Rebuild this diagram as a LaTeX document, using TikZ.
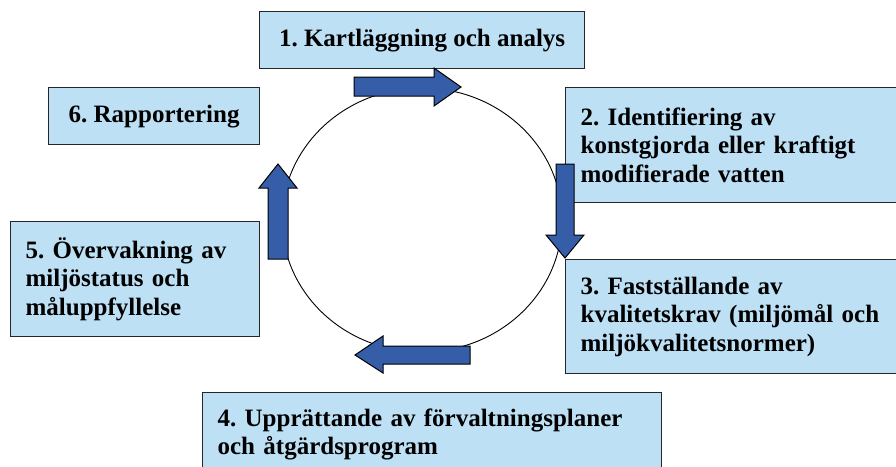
\documentclass[tikz,border=0pt]{standalone}
\usepackage{fontspec}
\setmainfont{Liberation Serif}
\usepackage{xcolor}
\usetikzlibrary{positioning}
\frenchspacing

\definecolor{boxblue}{RGB}{189,224,245}
\definecolor{arrowblue}{RGB}{54,94,168}

\tikzset{
  stage/.style={draw=black!85,fill=boxblue,line width=1.2pt,rectangle,
    inner xsep=15pt,inner ysep=4pt,anchor=north west,
    font=\bfseries\fontsize{25}{28.5}\selectfont},
  blockarrow/.style={draw=black,fill=arrowblue,line width=1pt,line join=miter}
}

\begin{document}
\begin{tikzpicture}[x=1pt,y=-1pt]
\clip (0,0) rectangle (896,466);
\fill[white] (0,0) rectangle (896,466);

% Stage boxes
\node[stage,minimum width=325pt,minimum height=57pt] (kart) at (259,11)
  {1. Kartläggning och analys};
\node[stage,text width=312pt,align=left,minimum height=115pt] (ident) at (565,87)
  {2. Identifiering av\\konstgjorda eller kraftigt\\modifierade vatten};
\node[stage,text width=312pt,align=left,minimum height=114pt] (fast) at (565,259)
  {3. Fastställande av\\kvalitetskrav (miljömål och\\miljökvalitetsnormer)};
\node[stage,text width=429pt,align=left,minimum height=84pt] (uppr) at (202,392)
  {4. Upprättande av förvaltningsplaner\\och åtgärdsprogram};
\node[stage,text width=219pt,align=left,minimum height=115pt] (overv) at (10,221)
  {5. Övervakning av\\miljöstatus och\\måluppfyllelse};
\node[stage,minimum width=211pt,minimum height=57pt] (rapp) at (48,87)
  {6. Rapportering};

% Cycle
\draw[line width=0.9pt] (422,220) ellipse [x radius=140,y radius=132];

% Arrows round the cycle
\draw[blockarrow] (354,77) -- (434,77) -- (434,68) -- (461,87) -- (434,106)
  -- (434,96) -- (354,96) -- cycle;
\draw[blockarrow] (556,164) -- (574,164) -- (574,235) -- (584,235) -- (565,258)
  -- (546,235) -- (556,235) -- cycle;
\draw[blockarrow] (470,346) -- (383,346) -- (383,336) -- (355,355) -- (383,373)
  -- (383,364) -- (470,364) -- cycle;
\draw[blockarrow] (268,259) -- (268,188) -- (259,188) -- (278,164) -- (297,188)
  -- (288,188) -- (288,259) -- cycle;
\end{tikzpicture}
\end{document}
